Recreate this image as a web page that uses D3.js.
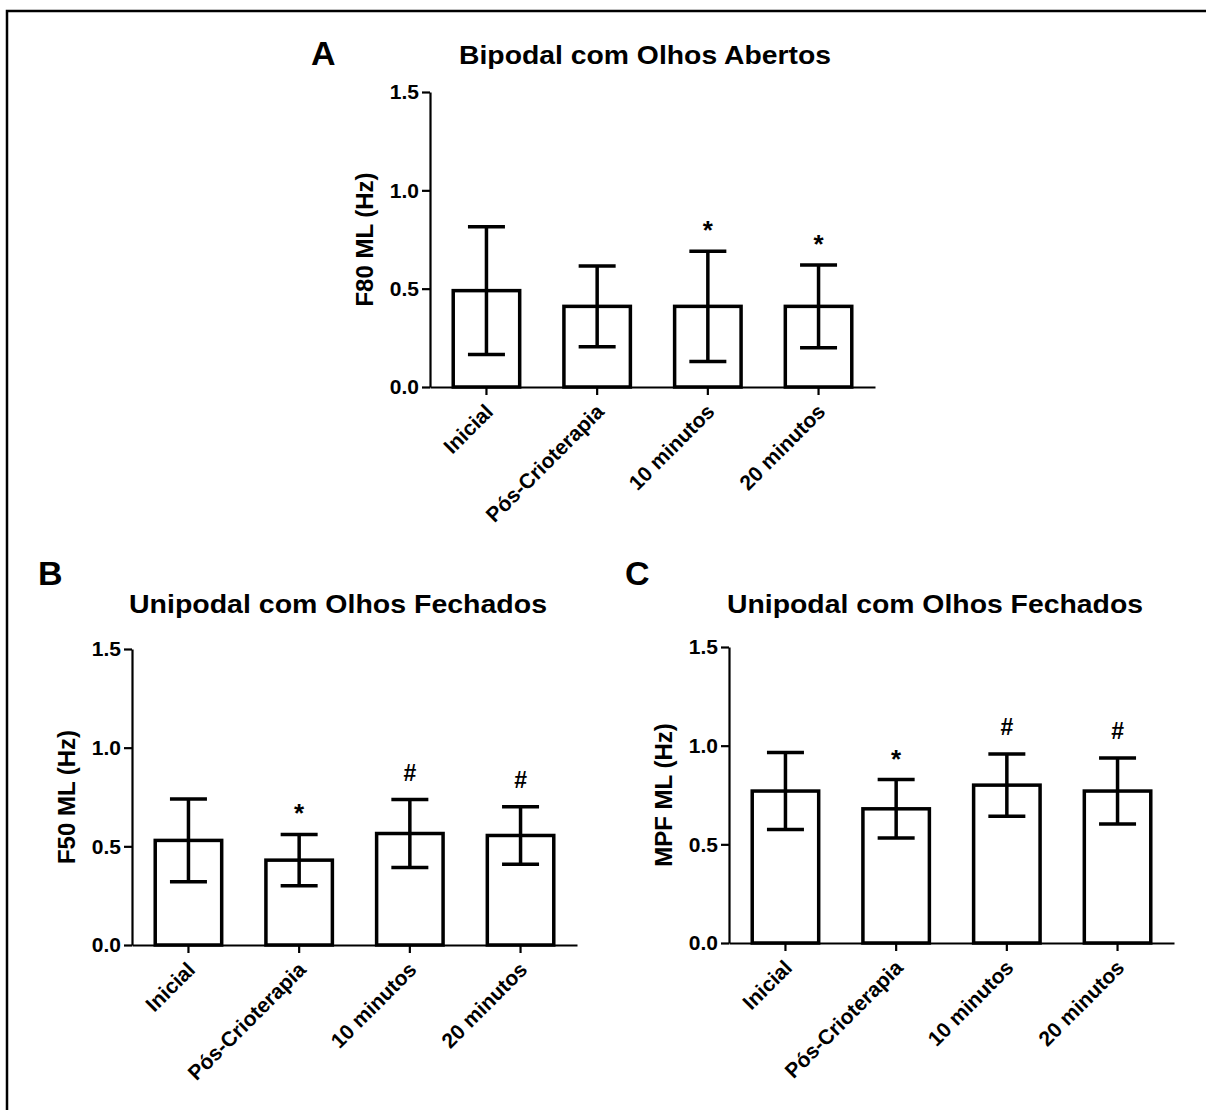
<!DOCTYPE html>
<html>
<head>
<meta charset="utf-8">
<script src="https://cdn.jsdelivr.net/npm/d3@7"></script>
<style>
  html, body { margin: 0; padding: 0; background: #fff; }
  svg { display: block; font-family: "Liberation Sans", Arial, sans-serif; }
</style>
</head>
<body>
<div id="chart"></div>
<script>
// categories shared by the three panels
const categories = ["Inicial", "Pós-Crioterapia", "10 minutos", "20 minutos"];
const yTicks = [0, 0.5, 1.0, 1.5];

const panelLetters = ["A", "B", "C"];
const panelTitles = ["Bipodal com Olhos Abertos", "Unipodal com Olhos Fechados", "Unipodal com Olhos Fechados"];
const yLabels = ["F80 ML (Hz)", "F50 ML (Hz)", "MPF ML (Hz)"];

// mean and SD
const f80Mean = [0.49, 0.41, 0.41, 0.41];
const f80Sd   = [0.325, 0.205, 0.28, 0.21];
const f50Mean = [0.53, 0.43, 0.565, 0.555];
const f50Sd   = [0.21, 0.13, 0.172, 0.146];
const mpfMean = [0.77, 0.68, 0.80, 0.77];
const mpfSd   = [0.195, 0.148, 0.158, 0.167];

// significance marks above the bars
const f80Marks = ["", "", "*", "*"];
const f50Marks = ["", "*", "#", "#"];
const mpfMarks = ["", "*", "#", "#"];

const STROKE = {
    axis: 2.2,
    bar: 3.5,
    err: 3.5
};

const width = 1206, height = 1110;

const svg = d3.select("#chart")
    .append("svg")
    .attr("width", width)
    .attr("height", height);

// outer frame (runs off right and bottom)
svg.append("rect")
    .attr("x", 7).attr("y", 11)
    .attr("width", 1300).attr("height", 1300)
    .attr("fill", "none")
    .attr("stroke", "#000")
    .attr("stroke-width", 2.5);

// panel frames: x0/x1 = x axis extent, yTop/yBot = 1.5 and 0.0
const panels = [
    { means: f80Mean, sds: f80Sd, marks: f80Marks, x0: 430, x1: 875, yTop: 92, yBot: 387,
      letterX: 311, letterY: 65, titleX: 645, titleY: 64, titleLen: 372 },
    { means: f50Mean, sds: f50Sd, marks: f50Marks, x0: 132, x1: 577, yTop: 649, yBot: 945,
      letterX: 38, letterY: 585, titleX: 338, titleY: 613, titleLen: 418 },
    { means: mpfMean, sds: mpfSd, marks: mpfMarks, x0: 729, x1: 1174, yTop: 647, yBot: 943,
      letterX: 625, letterY: 585, titleX: 935, titleY: 613, titleLen: 416 }
];

panels.forEach((p, i) => drawPanel(p, i));

function drawPanel(p, i) {
    const g = svg.append("g");

    const x = d3.scaleBand()
        .domain(categories)
        .range([p.x0, p.x1])
        .paddingInner(0.368)
        .paddingOuter(0.194);

    const y = d3.scaleLinear()
        .domain([0, 1.5])
        .range([p.yBot, p.yTop]);

    const rows = categories.map((c, k) => ({ cat: c, mean: p.means[k], sd: p.sds[k], mark: p.marks[k] }));

    // bars
    g.selectAll("rect.bar")
        .data(rows)
        .enter()
        .append("rect")
        .attr("class", "bar")
        .attr("x", d => x(d.cat) + STROKE.bar / 2)
        .attr("width", x.bandwidth() - STROKE.bar)
        .attr("y", d => y(d.mean))
        .attr("height", d => y(0) - y(d.mean))
        .attr("fill", "#fff")
        .attr("stroke", "#000")
        .attr("stroke-width", STROKE.bar);

    // error bars
    const cap = 18.5;
    const err = g.selectAll("g.err")
        .data(rows)
        .enter()
        .append("g")
        .attr("class", "err")
        .attr("stroke", "#000")
        .attr("stroke-width", STROKE.err);
    const cx = d => x(d.cat) + x.bandwidth() / 2;
    err.append("line")
        .attr("x1", cx).attr("x2", cx)
        .attr("y1", d => y(d.mean - d.sd))
        .attr("y2", d => y(d.mean + d.sd));
    err.append("line")
        .attr("x1", d => cx(d) - cap).attr("x2", d => cx(d) + cap)
        .attr("y1", d => y(d.mean + d.sd)).attr("y2", d => y(d.mean + d.sd));
    err.append("line")
        .attr("x1", d => cx(d) - cap).attr("x2", d => cx(d) + cap)
        .attr("y1", d => y(d.mean - d.sd)).attr("y2", d => y(d.mean - d.sd));

    // marks
    g.selectAll("text.mark")
        .data(rows.filter(d => d.mark))
        .enter()
        .append("text")
        .attr("class", "mark")
        .attr("x", cx)
        .attr("y", d => y(d.mean + d.sd) - 27 + (d.mark === "*" ? 15 : 8))
        .attr("text-anchor", "middle")
        .style("font-size", d => d.mark === "*" ? "26px" : "23px")
        .style("font-weight", "bold")
        .text(d => d.mark);

    // y axis
    const yAxis = g.append("g")
        .attr("transform", `translate(${p.x0},0)`)
        .call(d3.axisLeft(y)
            .tickValues(yTicks)
            .tickFormat(d3.format(".1f"))
            .tickSize(8)
            .tickSizeOuter(0)
            .tickPadding(3));

    // x axis
    const xAxis = g.append("g")
        .attr("transform", `translate(0,${p.yBot})`)
        .call(d3.axisBottom(x).tickSize(8).tickSizeOuter(0));

    [yAxis, xAxis].forEach(a => {
        a.attr("font-family", null).attr("font-size", null);
        a.selectAll("path, line").attr("stroke", "#000").attr("stroke-width", STROKE.axis);
    });

    yAxis.selectAll("text")
        .style("font-size", "21px")
        .style("font-weight", "bold")
        .attr("fill", "#000");

    xAxis.selectAll("text")
        .attr("text-anchor", "end")
        .attr("dy", null)
        .attr("y", null)
        .attr("transform", "translate(8,26) rotate(-45)")
        .style("font-size", "21px")
        .style("font-weight", "bold")
        .attr("fill", "#000");

    // y label
    g.append("text")
        .attr("transform", `translate(${p.x0 - 57},${(p.yTop + p.yBot) / 2}) rotate(-90)`)
        .attr("text-anchor", "middle")
        .style("font-size", "24px")
        .style("font-weight", "bold")
        .text(yLabels[i]);

    // title
    g.append("text")
        .attr("x", p.titleX)
        .attr("y", p.titleY)
        .attr("text-anchor", "middle")
        .attr("textLength", p.titleLen)
        .attr("lengthAdjust", "spacingAndGlyphs")
        .style("font-size", "25px")
        .style("font-weight", "bold")
        .text(panelTitles[i]);

    // panel letter
    g.append("text")
        .attr("x", p.letterX)
        .attr("y", p.letterY)
        .style("font-size", "34px")
        .style("font-weight", "bold")
        .text(panelLetters[i]);
}
</script>
</body>
</html>
